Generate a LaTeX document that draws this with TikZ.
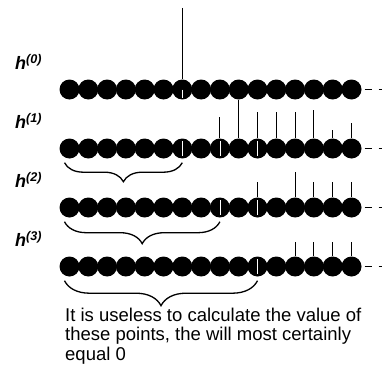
\documentclass[tikz,border=0pt]{standalone}
\usepackage{fontspec}
\setmainfont{Liberation Sans}
\usetikzlibrary{decorations.pathreplacing}

\begin{document}
\begin{tikzpicture}[x=1pt,y=-1pt,
  dot/.style={circle,fill=black,inner sep=0pt,minimum size=20pt},
  stem/.style={line width=1pt},
  gap/.style={white,line width=0.7pt},
  tail/.style={line width=1.4pt,dash pattern=on 7pt off 7pt},
  lbl/.style={font=\fontsize{18}{18}\selectfont\bfseries\itshape,anchor=base west,inner sep=0pt},
  note/.style={font=\fontsize{18.5}{19.5}\selectfont,align=left,anchor=base west,inner sep=0pt},
  hbrace/.style={decorate,decoration={brace,mirror,amplitude=#1},line width=1.3pt}]
  \useasboundingbox (0,0) rectangle (382,369);
  % rows of points h^(0) .. h^(3)
  \foreach \r in {0,...,3}{
    \pgfmathsetmacro{\yy}{89.5+59*\r}
    \foreach \k in {0,...,15}
      \node[dot] (p\r-\k) at ({69.5+18.8*\k},\yy) {};
    \draw[tail] ([xshift=3pt]p\r-15.east) -- ++(22,0);
    \node[lbl] (h\r) at (15,\yy-20) {h\textsuperscript{(\r)}};
  }
  % stems
  \coordinate (top) at (p0-6 |- 0,8);
  \draw[stem] (top) -- (p0-6);
  \draw[stem] (p0-9) -- (p1-9);
  \foreach \k/\t in {8/117,10/112,11/112,12/112,13/110,14/130,15/123}
    \draw[stem] (p1-\k) -- (p1-\k |- 0,\t);
  \foreach \k/\t in {10/182,12/172,13/182,14/182,15/182}
    \draw[stem] (p2-\k) -- (p2-\k |- 0,\t);
  \foreach \k in {12,...,15}
    \draw[stem] (p3-\k) -- (p3-\k |- 0,242);
  % white breaks through the points
  \draw[gap] (p0-6.center) -- ([yshift=2pt]p0-6.south);
  \foreach \r/\k in {1/6,1/8,1/10,2/8,2/10,3/10}
    \draw[gap] ([yshift=-3pt]p\r-\k.north) -- ([yshift=3pt]p\r-\k.south);
  % braces
  \draw[hbrace=19] ([shift={(-5pt,-4pt)}]p1-0.south) -- ([yshift=-4pt]p1-6.south);
  \draw[hbrace=22] ([shift={(-5pt,-4pt)}]p2-0.south) -- ([yshift=-4pt]p2-8.south);
  \draw[hbrace=25] ([shift={(-5pt,-4pt)}]p3-0.south) -- ([yshift=-4pt]p3-10.south);
  \node[note] (txt) at (65,360) {It is useless to calculate the value of\\these points, the will most certainly\\equal 0};
\end{tikzpicture}
\end{document}
